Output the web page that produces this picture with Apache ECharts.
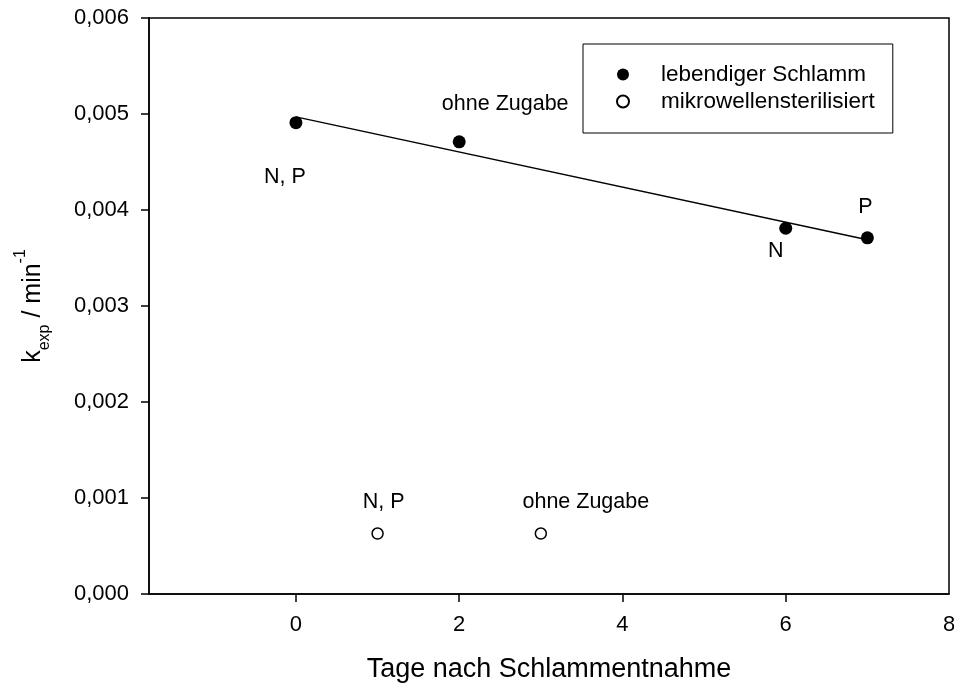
<!DOCTYPE html>
<html>
<head>
<meta charset="utf-8">
<script src="https://cdn.jsdelivr.net/npm/echarts@6/dist/echarts.min.js"></script>
<style>
  html, body { margin: 0; padding: 0; background: #fff; }
  #chart { width: 954px; height: 689px; }
</style>
</head>
<body>
<div id="chart"></div>
<script>
// Days after sludge sampling and measured rate constants
const liveDays = [0, 2, 6, 7];
const liveK = [0.00491, 0.00471, 0.00381, 0.00371];
const liveLabels = ['N, P', 'ohne Zugabe', 'N', 'P'];

const sterileDays = [1, 3];
const sterileK = [0.00063, 0.00063];
const sterileLabels = ['N, P', 'ohne Zugabe'];

// Linear fit through the live sludge series (end points)
const fitDays = [0, 7];
const fitK = [0.00497, 0.00369];

const xTickLabels = [0, 2, 4, 6, 8];
const xTickMarks = [0, 2, 4, 6];
const seriesNames = ['lebendiger Schlamm', 'mikrowellensterilisiert'];

// label placement relative to each marker
const liveOffsets = [[-11, 54], [46, -38], [-10, 23], [-2, -31]];
const sterileOffsets = [[6, -31], [45, -31]];

const FONT = "'Liberation Sans', Arial, sans-serif";

function labelled(days, ks, labels, offsets) {
  return days.map((d, i) => ({
    value: [d, ks[i]],
    label: { show: true, formatter: labels[i], position: 'inside', offset: offsets[i] }
  }));
}

const chart = echarts.init(document.getElementById('chart'), null, { renderer: 'canvas' });

chart.setOption({
  animation: false,
  textStyle: { fontFamily: FONT, color: '#000' },
  grid: {
    left: 149, right: 5, top: 18, bottom: 95,
    outerBoundsMode: 'none',
    containLabel: false,
    show: true, borderColor: '#000', borderWidth: 1.5, backgroundColor: 'transparent'
  },
  legend: {
    left: 583, top: 44,
    orient: 'vertical',
    padding: [19, 18, 20, 33],
    itemGap: 4,
    itemWidth: 12,
    itemHeight: 12,
    borderColor: '#000',
    borderWidth: 1,
    backgroundColor: '#fff',
    textStyle: { fontFamily: FONT, fontSize: 22.5, color: '#000', padding: [0, 0, 0, 27] },
    data: [
      { name: seriesNames[0], icon: 'circle' },
      { name: seriesNames[1], icon: 'circle' }
    ]
  },
  xAxis: {
    type: 'value',
    min: -1.8,
    max: 8,
    name: 'Tage nach Schlammentnahme',
    nameLocation: 'middle',
    nameGap: 62,
    nameTextStyle: { fontFamily: FONT, fontSize: 27, color: '#000' },
    axisLine: { show: true, onZero: false, lineStyle: { color: '#000', width: 1.5 } },
    axisTick: { show: true, inside: false, length: 8, lineStyle: { color: '#000', width: 1.5 }, customValues: xTickMarks },
    axisLabel: { fontFamily: FONT, fontSize: 22, color: '#000', margin: 20, customValues: xTickLabels, formatter: v => String(v) },
    splitLine: { show: false }
  },
  yAxis: {
    type: 'value',
    min: 0,
    max: 0.006,
    interval: 0.001,
    name: '{k|k}{sub|exp}{t| / min}{sup|-1}',
    nameLocation: 'middle',
    nameRotate: 90,
    nameGap: 96,
    nameTextStyle: {
      fontFamily: FONT, color: '#000',
      rich: {
        k: { fontFamily: FONT, fontSize: 25, lineHeight: 40, color: '#000' },
        t: { fontFamily: FONT, fontSize: 25, lineHeight: 40, color: '#000' },
        sub: { fontFamily: FONT, fontSize: 16, lineHeight: 16, verticalAlign: 'bottom', color: '#000' },
        sup: { fontFamily: FONT, fontSize: 16, lineHeight: 16, verticalAlign: 'top', color: '#000' }
      }
    },
    axisLine: { show: true, onZero: false, lineStyle: { color: '#000', width: 1.5 } },
    axisTick: { show: true, inside: false, length: 8, lineStyle: { color: '#000', width: 1.5 } },
    axisLabel: {
      fontFamily: FONT, fontSize: 22, color: '#000', margin: 20,
      formatter: v => v.toFixed(3).replace('.', ',')
    },
    splitLine: { show: false }
  },
  series: [
    {
      name: 'Regression',
      type: 'line',
      data: fitDays.map((d, i) => [d, fitK[i]]),
      showSymbol: false,
      symbol: 'none',
      lineStyle: { color: '#000', width: 1.5 },
      z: 1,
      silent: true
    },
    {
      name: seriesNames[0],
      type: 'scatter',
      symbol: 'circle',
      symbolSize: 13,
      itemStyle: { color: '#000', borderColor: '#000', borderWidth: 0, opacity: 1 },
      label: { fontFamily: FONT, fontSize: 21.5, color: '#000' },
      data: labelled(liveDays, liveK, liveLabels, liveOffsets),
      z: 3
    },
    {
      name: seriesNames[1],
      type: 'scatter',
      symbol: 'circle',
      symbolSize: 11,
      itemStyle: { color: '#fff', borderColor: '#000', borderWidth: 1.5, opacity: 1 },
      label: { fontFamily: FONT, fontSize: 21.5, color: '#000' },
      data: labelled(sterileDays, sterileK, sterileLabels, sterileOffsets),
      z: 3
    }
  ]
});
</script>
</body>
</html>
